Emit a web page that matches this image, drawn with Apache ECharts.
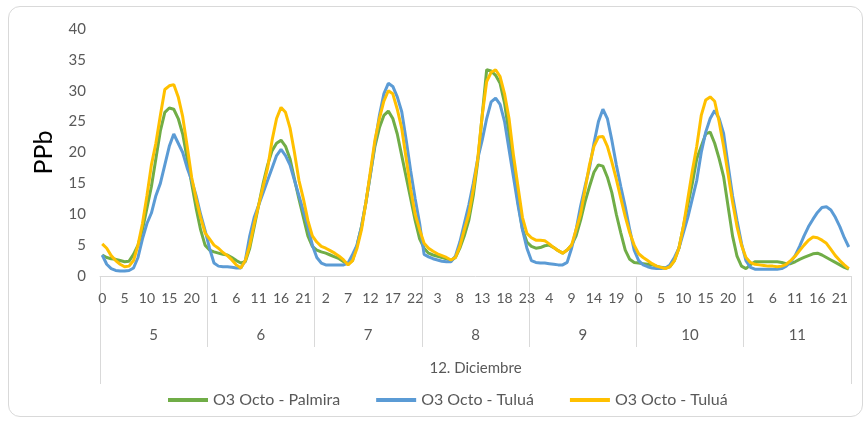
<!DOCTYPE html>
<html>
<head>
<meta charset="utf-8">
<script src="https://cdn.jsdelivr.net/npm/echarts@6/dist/echarts.min.js"></script>
<style>
html,body{margin:0;padding:0;background:#fff;}
#frame{position:absolute;left:8px;top:6px;width:853px;height:409px;border:1px solid #d9d9d9;border-radius:12px;}
#chart{position:absolute;left:0;top:0;width:865px;height:421px;}
</style>
</head>
<body>
<div id="frame"></div>
<div id="chart"></div>
<script>
const days = ['5', '6', '7', '8', '9', '10', '11'];
const hoursPerDay = 24;
const groupLabel = ['12. Diciembre'];
const yTicks = { min: 0, max: 40, interval: 5 };
const seriesNames = ['O3 Octo - Palmira', 'O3 Octo - Tuluá', 'O3 Octo - Tuluá '];

// O3 Octo - Palmira (green), one row per day (hours 0..23)
const palmira = [
  3.4,3.0,2.8,2.7,2.5,2.3,2.4,3.5,5,7.5,11,14.5,19,23.5,26.5,27.2,27,25.5,23,19,15,11,7.5,5,
  4.2,3.9,3.7,3.5,3.4,3.0,2.5,2.1,2.3,4.5,8,11.5,15,18,20.3,21.5,22,21,19,15.7,12.5,9.5,6.5,4.8,
  4.2,3.9,3.7,3.4,3.1,2.8,2.3,2.0,2.5,5,8,12,16.5,21,24,26,26.7,25.5,23,19.5,16,12.5,9,6,
  4.5,3.7,3.4,3.2,3.0,2.8,2.5,3,4.5,6.5,9,13,18.5,26,33.4,33.2,32.5,31.2,28,23,17.7,12,7.6,5.5,
  4.8,4.5,4.6,4.9,5,4.6,4.1,3.7,4.2,5,6.5,9,12,14.5,16.8,18,17.8,16,13.5,10,7,4.2,2.7,2.2,
  2.1,2,1.9,1.8,1.6,1.4,1.3,1.5,2.5,4.5,8,11.5,15,19,21,23,23.3,21.5,19,16.1,11.3,6.5,3.2,1.6,
  1.2,1.8,2.3,2.3,2.3,2.3,2.3,2.3,2.2,2.0,2.0,2.3,2.7,3.0,3.3,3.6,3.7,3.4,3.0,2.6,2.2,1.8,1.4,1.1
];
// O3 Octo - Tuluá (blue)
const tuluaBlue = [
  3.4,1.9,1.2,0.9,0.8,0.8,0.9,1.3,3,6,8.5,10.2,13,15,18,21,23,21.5,20,17.5,15.5,13,10,7.4,
  4.5,2.1,1.6,1.5,1.5,1.4,1.3,1.3,2.5,6.5,9.5,11.5,13.5,15.5,17.5,19.5,20.5,19.5,18,15.5,13,10.5,8,5,
  3,2.1,1.8,1.8,1.8,1.8,1.8,2.1,3.5,5,8,12,16.5,21.5,26,29.5,31.2,30.7,29,26.6,22,17,12.5,8.5,
  3.5,3.1,2.8,2.6,2.4,2.3,2.3,3.2,5.5,8.5,11.5,15,19,22,25.5,28.2,28.8,27.8,25,20.5,16,11.5,7.5,4.5,
  2.5,2.2,2.1,2.1,2,1.9,1.8,1.8,2.2,4.5,7.5,11.3,14.5,17.5,21.5,25,27,25.5,22,18,14.5,11.2,7.5,4.2,
  2.5,1.8,1.5,1.3,1.2,1.2,1.3,1.8,3,4.5,7,9.5,12.5,15.5,20,23.3,25.5,26.8,25.5,23.1,18,13,9,5.3,
  2.5,1.4,1.1,1.1,1.1,1.1,1.1,1.1,1.2,1.6,2.3,3.3,4.8,6.5,8,9.2,10.3,11.1,11.2,10.7,9.5,8,6.2,4.7
];
// O3 Octo - Tuluá (orange)
const tuluaOrange = [
  5.2,4.5,3.3,2.5,1.9,1.5,1.6,2.5,5,8.5,13,18,21.5,26,30.2,30.8,31,29,25.8,21,16,12.5,9.5,7,
  6,5,4.5,3.8,3.3,2.6,1.8,1.3,2.5,5,8.5,11.5,14.5,17.5,22,25.5,27.3,26.5,24,20,15.5,12.5,9,6.5,
  5.5,4.8,4.5,4.1,3.7,3.2,2.6,1.8,2.5,4.5,7.5,12,17,22,25.5,28.3,30,29.5,27,23.9,19,14,10,7.5,
  5.3,4.5,4,3.6,3.3,3,2.6,3,4.8,7.5,10,14,19,26,31.5,33,33.4,32.3,29.5,25.5,19.5,14.5,9.5,6.9,
  6.2,5.8,5.8,5.7,5.2,4.6,4.1,3.7,4.2,5,7.5,10,14,18,21,22.5,22.6,21,18.5,15.7,12.6,9.6,7,5,
  3.6,3,2.5,2,1.6,1.4,1.2,1.5,2.5,4.5,8,12.5,17,21,26,28.5,29,28.3,25,21,16.5,12,8,5,
  3,2.2,1.9,1.8,1.7,1.6,1.6,1.5,1.6,1.9,2.5,3.2,4.1,5,5.8,6.3,6.2,5.8,5.3,4.3,3.3,2.5,1.8,1.2
];

const categories = [];
days.forEach(() => { for (let h = 0; h < hoursPerDay; h++) categories.push(String(h)); });

const textColor = '#595959';
const lineGray = '#d9d9d9';
const font = "Lato, 'Liberation Sans', sans-serif";

const chart = echarts.init(document.getElementById('chart'), null, { renderer: 'canvas' });
chart.setOption({
  animation: false,
  textStyle: { fontFamily: font, color: textColor },
  grid: { left: 100, right: 14, top: 29, bottom: 145, containLabel: false },
  legend: {
    left: 163, top: 387, itemWidth: 40, itemHeight: 4, itemGap: 36, icon: 'rect',
    formatter: n => n.trim(),
    textStyle: { fontSize: 16, color: textColor, fontFamily: font },
    data: seriesNames
  },
  xAxis: [
    {
      type: 'category', data: categories, boundaryGap: true, position: 'bottom',
      axisLine: { lineStyle: { color: lineGray, width: 1 } },
      axisTick: { show: false },
      axisLabel: { interval: 4, margin: 15, fontSize: 14, color: textColor, fontFamily: font }
    },
    {
      type: 'category', data: days, boundaryGap: true, position: 'bottom',
      axisLine: { show: false },
      axisTick: { show: true, length: 71, lineStyle: { color: lineGray } },
      axisLabel: { margin: 52, fontSize: 15, color: textColor, fontFamily: font }
    },
    {
      type: 'category', data: groupLabel, boundaryGap: true, position: 'bottom',
      axisLine: { show: false },
      axisTick: { show: true, length: 108, lineStyle: { color: lineGray } },
      axisLabel: { margin: 85, fontSize: 15, color: textColor, fontFamily: font }
    }
  ],
  yAxis: {
    type: 'value', min: yTicks.min, max: yTicks.max, interval: yTicks.interval,
    name: 'PPb', nameLocation: 'middle', nameGap: 44, nameRotate: 90,
    nameTextStyle: { fontSize: 25, color: '#000', fontFamily: font },
    axisLine: { show: false }, axisTick: { show: false },
    splitLine: { show: false },
    axisLabel: { margin: 14, fontSize: 15, color: textColor, fontFamily: font }
  },
  series: [
    { name: seriesNames[0], type: 'line', data: palmira, symbol: 'none', lineStyle: { width: 3, color: '#70AD47' }, itemStyle: { color: '#70AD47' } },
    { name: seriesNames[1], type: 'line', data: tuluaBlue, symbol: 'none', lineStyle: { width: 3, color: '#5B9BD5' }, itemStyle: { color: '#5B9BD5' } },
    { name: seriesNames[2], type: 'line', data: tuluaOrange, symbol: 'none', lineStyle: { width: 3, color: '#FFC000' }, itemStyle: { color: '#FFC000' } }
  ]
});
</script>
</body>
</html>
